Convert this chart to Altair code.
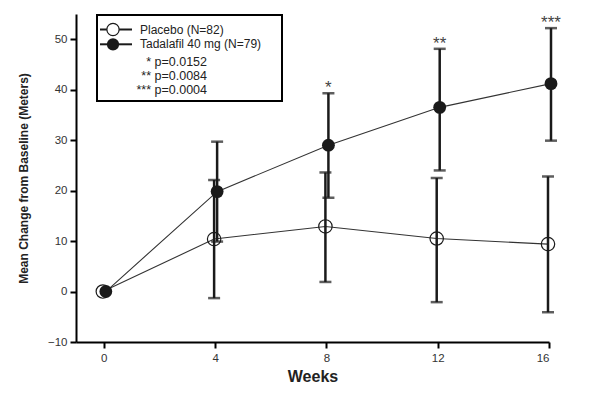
import altair as alt
import pandas as pd

weeks = [0, 4, 8, 12, 16]
placebo_mean = [0, 10.4, 12.9, 10.5, 9.4]
placebo_upper = [None, 22.1, 23.6, 22.5, 22.8]
placebo_lower = [None, -1.3, 1.9, -2.1, -4.1]
tadalafil_mean = [0, 19.8, 29.0, 36.5, 41.2]
tadalafil_upper = [None, 29.7, 39.3, 48.1, 52.2]
tadalafil_lower = [None, 9.9, 18.6, 24.0, 29.9]
signif = ["", "", "*", "**", "***"]

legend_labels = ["Placebo (N=82)", "Tadalafil 40 mg (N=79)"]
p_stars = ["*", "**", "***"]
p_values = ["p=0.0152", "p=0.0084", "p=0.0004"]

FONT = "Liberation Sans Narrow, Liberation Sans, Arial"

pl = pd.DataFrame({"week": weeks, "mean": placebo_mean, "up": placebo_upper, "lo": placebo_lower})
td = pd.DataFrame({"week": weeks, "mean": tadalafil_mean, "up": tadalafil_upper, "lo": tadalafil_lower, "sig": signif})

W, H = 473, 328
xs = alt.Scale(domain=[-1, 16], nice=False, zero=False)
ys = alt.Scale(domain=[-10, 55], nice=False, zero=False)
X = alt.X("week:Q", scale=xs, title="Weeks",
          axis=alt.Axis(values=weeks, grid=False, domainColor="black", domainWidth=2,
                        tickColor="black", tickWidth=2, tickSize=6, labelColor="#333",
                        labelFont=FONT, labelFontSize=11.5, labelPadding=4,
                        titleFont=FONT, titleFontSize=16, titleFontWeight="bold",
                        titleColor="#222", titlePadding=5))
Y = alt.Y("mean:Q", scale=ys, title="Mean Change from Baseline (Meters)",
          axis=alt.Axis(values=[-10, 0, 10, 20, 30, 40, 50], grid=False, domainColor="black",
                        domainWidth=2, tickColor="black", tickWidth=2, tickSize=6,
                        labelColor="#333", labelFont=FONT, labelFontSize=11.5, labelPadding=3,
                        titleFont=FONT, titleFontSize=12, titleFontWeight="bold",
                        titleColor="#222", titlePadding=17))


def series(df, off, filled):
    base = alt.Chart(df)
    line = base.mark_line(color="#333", strokeWidth=1.1, xOffset=off).encode(x=X, y=Y)
    ebar = base.mark_rule(color="#1a1a1a", strokeWidth=2.5, xOffset=off).encode(
        x=alt.X("week:Q", scale=xs), y=alt.Y("lo:Q", scale=ys), y2="up:Q")
    capu = base.mark_tick(color="#1a1a1a", orient="horizontal", size=12, thickness=2.5,
                          xOffset=off).encode(x=alt.X("week:Q", scale=xs), y=alt.Y("up:Q", scale=ys))
    capl = base.mark_tick(color="#1a1a1a", orient="horizontal", size=12, thickness=2.5,
                          xOffset=off).encode(x=alt.X("week:Q", scale=xs), y=alt.Y("lo:Q", scale=ys))
    if filled:
        pts = base.mark_point(shape="circle", filled=True, color="#1a1a1a", size=165, opacity=1,
                              xOffset=off).encode(x=alt.X("week:Q", scale=xs), y=alt.Y("mean:Q", scale=ys))
    else:
        pts = base.mark_point(shape="circle", filled=False, color="#1a1a1a", size=180,
                              strokeWidth=1.2, opacity=1,
                              xOffset=off).encode(x=alt.X("week:Q", scale=xs), y=alt.Y("mean:Q", scale=ys))
    return [line, ebar, capu, capl, pts]


stars = alt.Chart(td).mark_text(font=FONT, fontSize=17, color="#444", baseline="alphabetic",
                                dy=0, xOffset=2).encode(
    x=alt.X("week:Q", scale=xs), y=alt.Y("up:Q", scale=ys), text="sig:N")

# legend box
one = pd.DataFrame({"a": [0]})
box = alt.Chart(one).mark_rect(fill="white", stroke="black", strokeWidth=2).encode(
    x=alt.value(21), x2=alt.value(206), y=alt.value(1), y2=alt.value(87))
leg_rows = []
for i, (lab, filled) in enumerate(zip(legend_labels, [False, True])):
    yy = 15.5 + 14.8 * i
    leg_rows.append(alt.Chart(one).mark_rule(color="#1a1a1a", strokeWidth=2).encode(
        x=alt.value(24), x2=alt.value(56), y=alt.value(yy)))
    leg_rows.append(alt.Chart(one).mark_point(shape="circle", filled=filled, color="#1a1a1a",
                                              fill="#1a1a1a" if filled else "white",
                                              size=150, strokeWidth=1.2,
                                              opacity=1).encode(
        x=alt.value(37), y=alt.value(yy)))
    leg_rows.append(alt.Chart(pd.DataFrame({"t": [lab]})).mark_text(
        font=FONT, fontSize=12, color="#222", align="left", baseline="middle").encode(
        x=alt.value(64), y=alt.value(yy), text="t:N"))
for i, (s, p) in enumerate(zip(p_stars, p_values)):
    yy = 47.5 + 14 * i
    leg_rows.append(alt.Chart(pd.DataFrame({"t": [s + " " + p]})).mark_text(
        font=FONT, fontSize=12.5, color="#222", align="right", baseline="middle").encode(
        x=alt.value(131), y=alt.value(yy), text="t:N"))

layers = series(pl, -1, False) + series(td, 2, True) + [stars, box] + leg_rows

chart = alt.layer(*layers).properties(
    width=W, height=H, autosize=alt.AutoSizeParams(type="none"),
    padding={"left": 68, "top": 6, "right": 30, "bottom": 45}, background="white"
).configure_view(stroke=None)

chart.save("out.html", embed_options={"renderer": "svg", "actions": False})
